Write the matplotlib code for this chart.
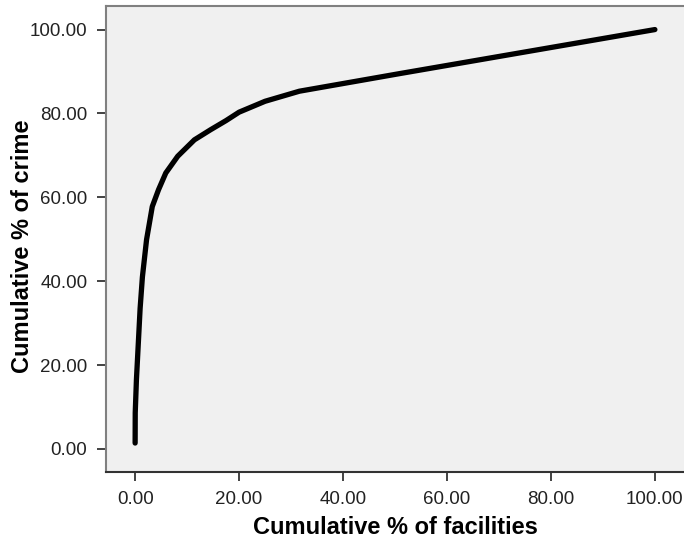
import numpy as np
import matplotlib.pyplot as plt

plt.rcParams['font.family'] = ['Liberation Sans', 'DejaVu Sans']

# Cumulative curve
facilities_pct = [0.0, 0.02, 0.25, 0.58, 0.96, 1.4, 2.2, 3.3, 4.5, 5.9, 8.2,
                  11.4, 14.5, 17.5, 20.0, 25.0, 31.6, 50.9, 100.0]
crime_pct = [1.4, 8.6, 16.5, 24.4, 33.5, 41.0, 49.9, 57.8, 61.8, 65.8, 69.8,
             73.7, 76.1, 78.3, 80.3, 82.9, 85.3, 89.5, 100.0]
ticks = [0, 20, 40, 60, 80, 100]

fig = plt.figure(figsize=(6.84, 5.43), dpi=100)
ax = fig.add_axes([0.155, 0.1308, 0.845, 0.858])
ax.set_facecolor('#f0f0f0')

ax.plot(facilities_pct, crime_pct, color='black', lw=3.8,
        solid_capstyle='round', solid_joinstyle='round')

ax.set_xlim(-5.6, 105.6)
ax.set_ylim(-5.5, 105.6)
ax.set_xticks(ticks)
ax.set_yticks(ticks)
ax.set_xticklabels([f"{t:.2f}" for t in ticks])
ax.set_yticklabels([f"{t:.2f}" for t in ticks])
ax.tick_params(direction='out', length=6.5, width=1.2, labelsize=13.5,
               colors='#222222', pad=7)

ax.spines['right'].set_visible(False)
for s in ['left', 'top']:
    ax.spines[s].set_color('#808080')
    ax.spines[s].set_linewidth(1.5)
ax.spines['bottom'].set_color('#333333')
ax.spines['bottom'].set_linewidth(1.5)

ax.set_xlabel("Cumulative % of facilities", fontsize=17, fontweight='bold')
ax.set_ylabel("Cumulative % of crime", fontsize=17, fontweight='bold')
ax.xaxis.set_label_coords(0.5, -0.095)
ax.yaxis.set_label_coords(-0.125, 0.485)

fig.savefig("out.png", dpi=100)
